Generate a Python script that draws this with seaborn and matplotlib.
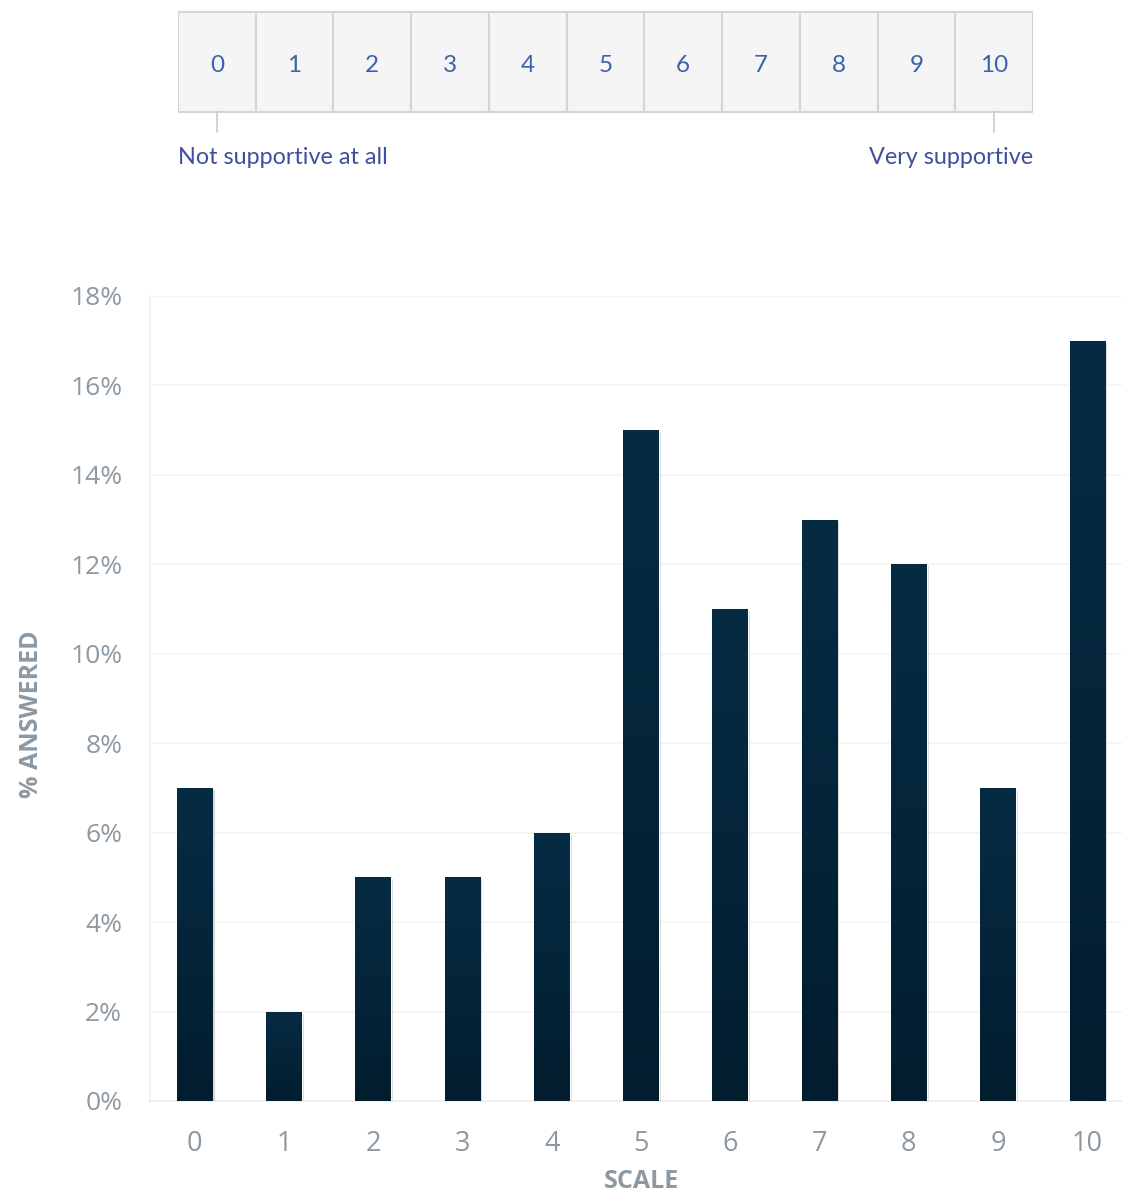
import numpy as np
import pandas as pd
import matplotlib.pyplot as plt
import matplotlib.patches as mpatches
import matplotlib.patheffects as pe
from matplotlib.colors import LinearSegmentedColormap
import seaborn as sns

# Data
scale_points = [0, 1, 2, 3, 4, 5, 6, 7, 8, 9, 10]
pct_answered = [7, 2, 5, 5, 6, 15, 11, 13, 12, 7, 17]
y_ticks = [0, 2, 4, 6, 8, 10, 12, 14, 16, 18]
low_label = "Not supportive at all"
high_label = "Very supportive"

df = pd.DataFrame({'scale': [str(s) for s in scale_points], 'pct': pct_answered})

sns.set_theme(style='white')
plt.rcParams['font.family'] = ['Open Sans', 'DejaVu Sans']

W, H = 1122, 1195
fig = plt.figure(figsize=(W / 100, H / 100), dpi=100)

grey = '#8c98a2'
bar_top = '#062c44'
bar_bottom = '#021d2e'

# Bar chart
ax = fig.add_axes([150 / W, 1 - 1101 / H, 982 / W, 805 / H])
sns.barplot(data=df, x='scale', y='pct', color=bar_top, width=0.4,
            saturation=1, ax=ax, zorder=3)

grad_cmap = LinearSegmentedColormap.from_list('bars', [bar_bottom, bar_top])
gradient = np.linspace(0, 1, 256).reshape(-1, 1)
for patch in ax.patches:
    x0, y0 = patch.get_x(), patch.get_y()
    w, h = patch.get_width(), patch.get_height()
    patch.set_path_effects([pe.SimplePatchShadow(offset=(1.5, -1.5), shadow_rgbFace='#888888', alpha=0.35),
                            pe.Normal()])
    im = ax.imshow(gradient, extent=[x0, x0 + w, y0, y0 + h], origin='lower',
                   cmap=grad_cmap, aspect='auto', zorder=4)
    im.set_clip_path(patch)

ax.set_xlim(-0.5, len(scale_points) - 0.5)
ax.set_ylim(0, 18)
ax.set_yticks(y_ticks)
ax.set_yticklabels([f'{t}%' for t in y_ticks])
ax.grid(axis='y', color='#f4f4f4', linewidth=1.2, zorder=0)
ax.grid(axis='x', visible=False)
for side in ['top', 'right']:
    ax.spines[side].set_visible(False)
ax.spines['left'].set_color('#f2f2f2')
ax.spines['bottom'].set_color('#eeeeee')
ax.spines['bottom'].set_linewidth(1.2)
ax.tick_params(axis='both', which='major', length=0, labelsize=19, labelcolor=grey)
ax.tick_params(axis='y', pad=20)
ax.tick_params(axis='x', pad=21, labelsize=19.5)
ax.set_xticks(np.arange(-0.5, len(scale_points), 1.0), minor=True)
ax.tick_params(axis='x', which='minor', length=10, width=1.2, color='#e6e6e6', direction='out')

ax.set_ylabel('% ANSWERED', fontsize=18, fontweight='bold', color=grey)
ax.yaxis.set_label_coords(-0.108, 0.48)
ax.set_xlabel('SCALE', fontsize=18, fontweight='bold', color=grey)
ax.xaxis.set_label_coords(0.5, -0.084)

# Scale widget on top
blue = '#3b63ad'
label_blue = '#3f4fa0'
wax = fig.add_axes([178 / W, 1 - 175 / H, 855 / W, 175 / H])
wax.set_xlim(-0.5, len(scale_points) - 0.5)
wax.set_ylim(175, 0)
wax.axis('off')
for i, s in enumerate(scale_points):
    wax.add_patch(mpatches.Rectangle((i - 0.5, 12), 1, 100, facecolor='#f5f5f5',
                                     edgecolor='#d4d4d4', linewidth=1.5))
    wax.text(i, 65, str(s), ha='center', va='center', fontsize=17.5,
             color=blue, family=['Lato', 'DejaVu Sans'])
for i in [0, len(scale_points) - 1]:
    wax.plot([i, i], [112, 132], color='#cccccc', linewidth=1.2)
wax.text(-0.5, 158, low_label, ha='left', va='center', fontsize=16.8,
         color=label_blue, family=['Lato', 'DejaVu Sans'])
wax.text(len(scale_points) - 0.5, 158, high_label, ha='right', va='center', fontsize=16.8,
         color=label_blue, family=['Lato', 'DejaVu Sans'])

fig.savefig('out.png', dpi=100)
